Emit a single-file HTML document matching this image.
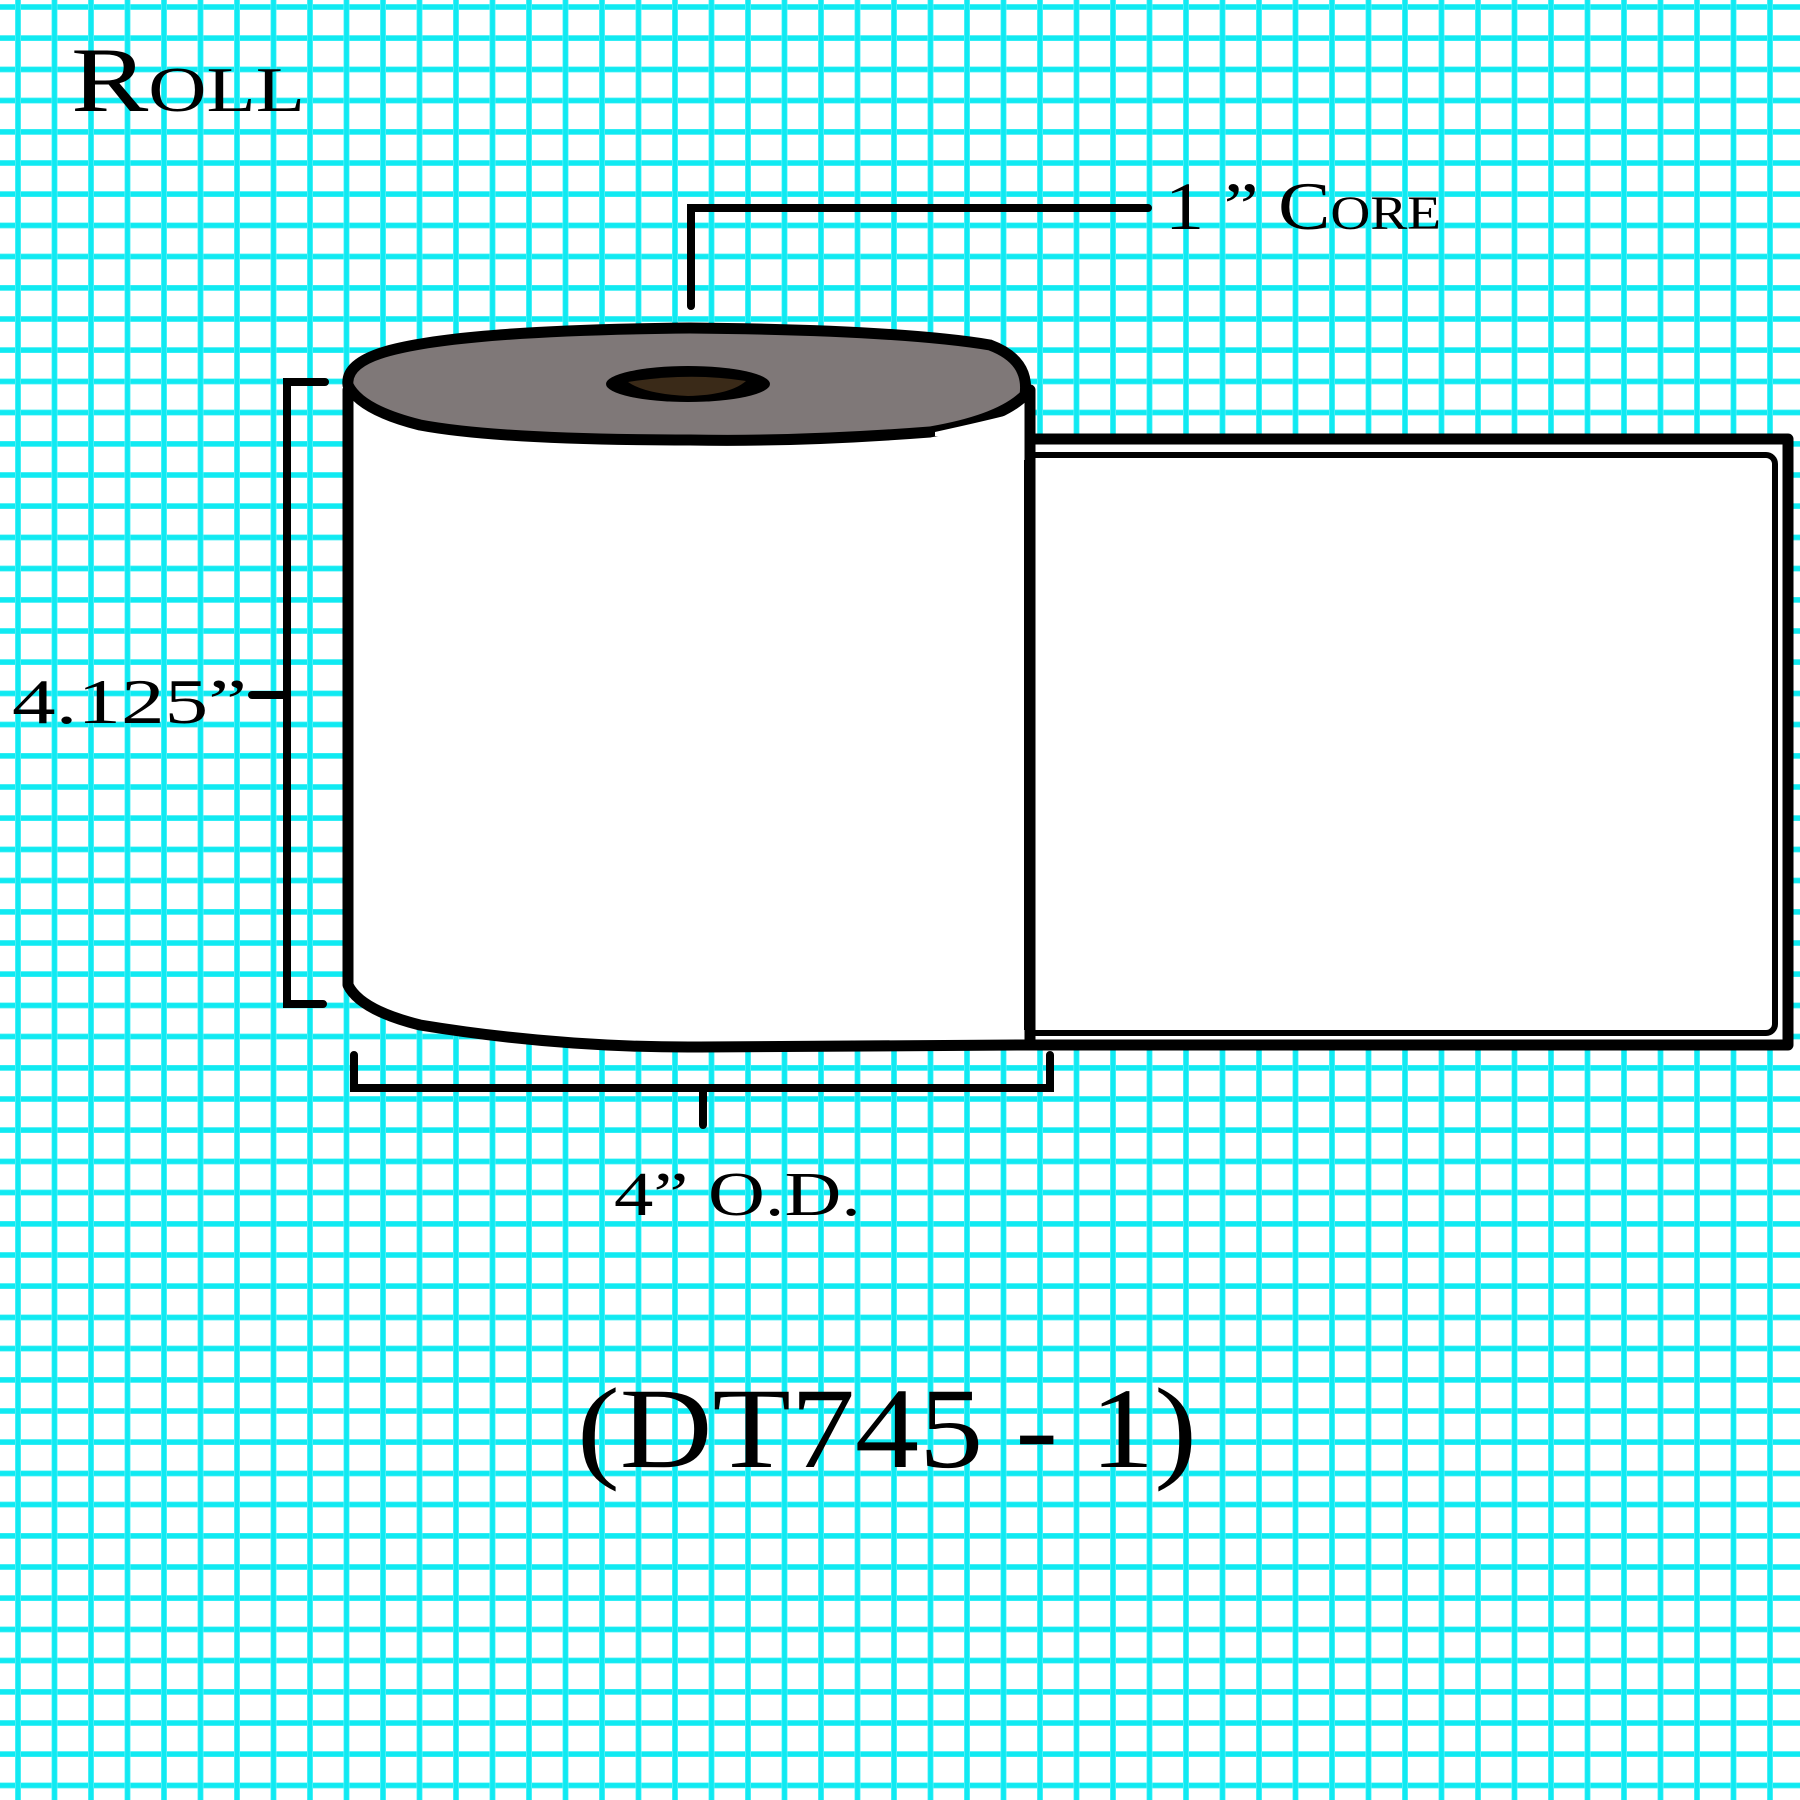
<!DOCTYPE html>
<html><head><meta charset="utf-8"><style>
html,body{margin:0;padding:0}
body{width:1800px;height:1800px;position:relative;overflow:hidden;background-color:#fff;
background-image:
repeating-linear-gradient(to right, transparent 0px, transparent 15px, #7ff4f8 15px, #10eaf2 16px, #10eaf2 20px, #7ff4f8 21px, transparent 21px, transparent 36.5px),
repeating-linear-gradient(to bottom, transparent 0px, transparent 4px, #7ff4f8 4px, #10eaf2 5px, #10eaf2 9px, #7ff4f8 10px, transparent 10px, transparent 31.2px);}
svg{position:absolute;left:0;top:0}
</style></head><body>
<svg width="1800" height="1800" viewBox="0 0 1800 1800" font-family="Liberation Serif, serif">
<text x="71" y="111" font-size="92" font-variant="small-caps" textLength="234" lengthAdjust="spacingAndGlyphs">Roll</text>
<text x="1165" y="229" font-size="68" font-variant="small-caps" textLength="276" lengthAdjust="spacingAndGlyphs">1 ” Core</text>
<polyline points="691,306 691,208 1148,208" fill="none" stroke="#000" stroke-width="8" stroke-linecap="round"/>
<!-- label strip -->
<rect x="1020" y="439" width="768" height="606" fill="#fff" stroke="#000" stroke-width="11" stroke-linejoin="round"/>
<rect x="1027" y="455" width="748" height="578" rx="9" fill="#fff" stroke="#000" stroke-width="6"/>
<!-- roll body -->
<path d="M348,390 L348,985 Q360,1010 420,1025 Q560,1048 700,1047 L1020,1045 L1030,1045 L1030,390 Z" fill="#fff" stroke="#000" stroke-width="11" stroke-linejoin="round"/>
<line x1="1027" y1="460" x2="1027" y2="1030" stroke="#000" stroke-width="6"/>
<!-- top -->
<path d="M348,385 Q345,360 400,348 Q480,330 690,328 Q900,330 990,345 Q1030,360 1025,395 Q1000,420 930,432 Q800,442 690,440 Q500,440 420,425 Q360,410 348,385 Z" fill="#7f7878" stroke="#000" stroke-width="11"/>
<path d="M935,432 Q990,420 1020,412 L1022,437 Q980,440 935,436 Z" fill="#fff"/>
<ellipse cx="688" cy="384" rx="82" ry="18" fill="#000"/>
<path d="M628,382 Q690,372 746,381 Q730,395 688,396 Q645,394 628,382 Z" fill="#3a2a18"/>
<!-- left bracket -->
<polyline points="325,382 287,382 287,1004 323,1004" fill="none" stroke="#000" stroke-width="8" stroke-linecap="round"/>
<line x1="252" y1="695" x2="287" y2="695" stroke="#000" stroke-width="8" stroke-linecap="round"/>
<text x="12" y="723" font-size="64" textLength="235" lengthAdjust="spacingAndGlyphs">4.125”</text>
<!-- bottom bracket -->
<polyline points="354,1055 354,1088 1050,1088 1050,1055" fill="none" stroke="#000" stroke-width="8" stroke-linecap="round"/>
<line x1="703" y1="1088" x2="703" y2="1125" stroke="#000" stroke-width="8" stroke-linecap="round"/>
<text x="614" y="1215" font-size="62" textLength="247" lengthAdjust="spacingAndGlyphs">4” O.D.</text>
<text x="577" y="1467" font-size="115" textLength="620" lengthAdjust="spacingAndGlyphs">(DT745 - 1)</text>
</svg>
</body></html>
